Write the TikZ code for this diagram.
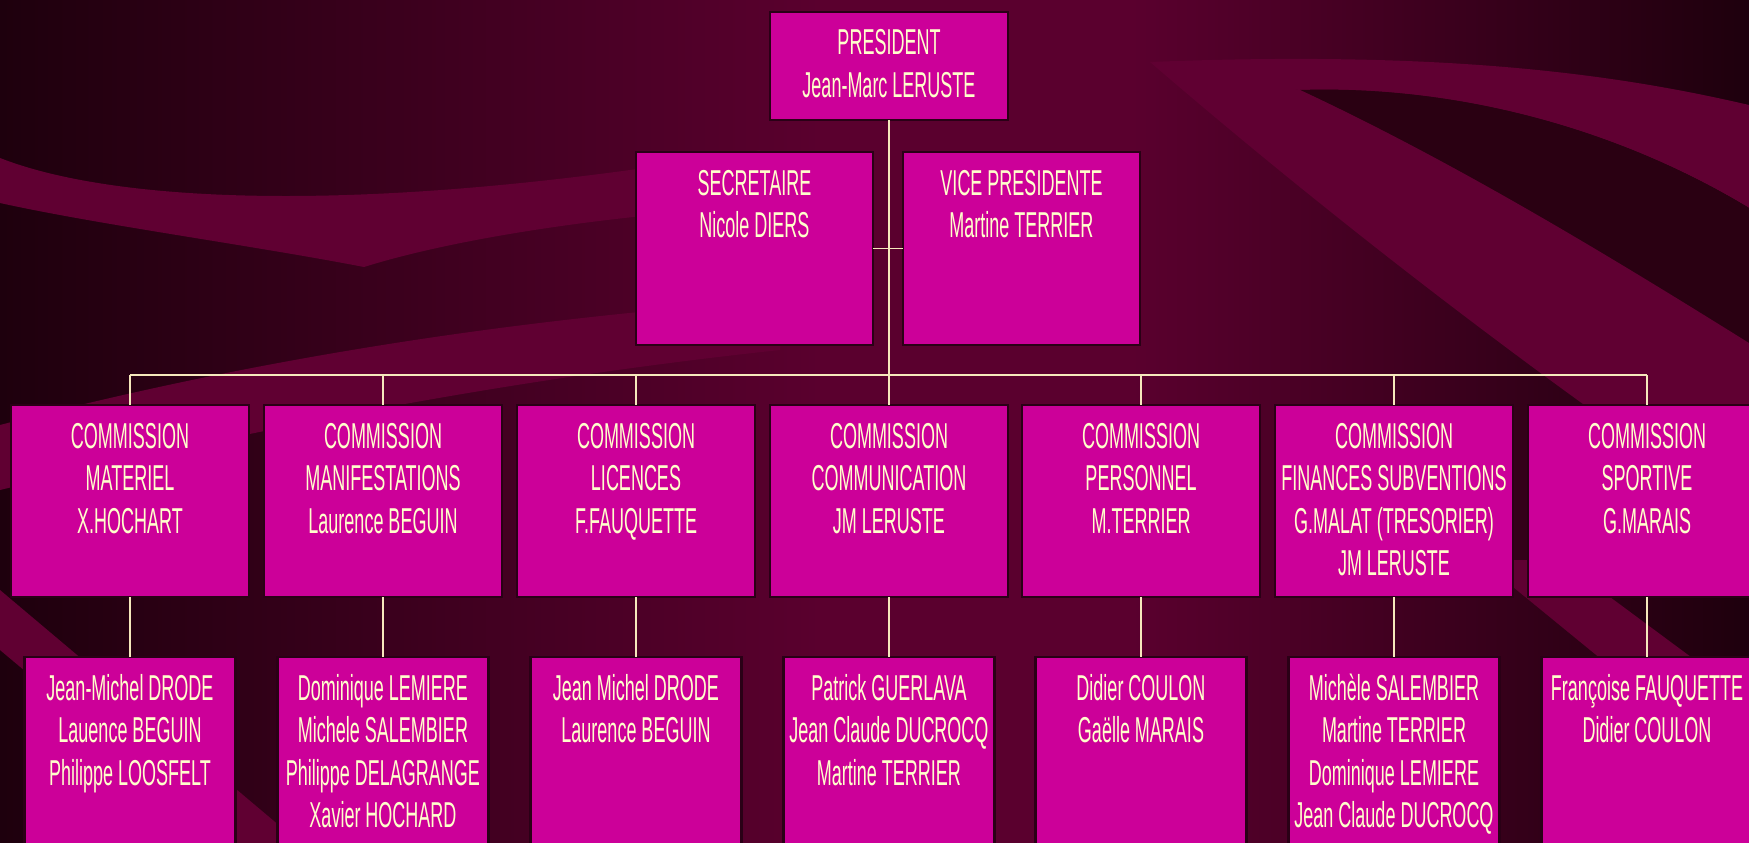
\documentclass[tikz,border=0pt]{standalone}
\usepackage{fontspec}
\setmainfont{Liberation Sans}[FakeStretch=0.5]
\definecolor{mag}{HTML}{CC0099}
\definecolor{cream}{HTML}{FFFFCC}
\definecolor{wire}{HTML}{F6E8BC}
\definecolor{bdr}{HTML}{2A0016}
\definecolor{bgdark}{HTML}{1E000D}
\definecolor{bgmid}{HTML}{5A002E}
\definecolor{band}{HTML}{600032}
\definecolor{bgdeep}{HTML}{2A0012}
\newcommand{\bxt}[3]{\parbox[c][#2][t]{#1}{\centering\fontsize{36}{42.5}\selectfont\vspace*{13.25pt}\strut #3\par}}
\tikzset{
  orgbox/.style={draw=bdr, line width=2.5pt, fill=mag, inner sep=0pt, outer sep=0pt, text=cream, anchor=north},
  conn/.style={draw=wire, line width=1.6pt},
  bandfill/.style={fill=band}
}
\begin{document}
\begin{tikzpicture}[x=1pt,y=-1pt]
\useasboundingbox (0,0) rectangle (1749,843);
\clip (0,0) rectangle (1749,843);
% background
\shade[left color=bgdark, right color=bgmid] (0,0) rectangle (821,843);
\fill[bgmid] (820,0) rectangle (1131,843);
\shade[left color=bgmid, right color=bgdark] (1130,0) rectangle (1749,843);
% upper-left boomerang band
\fill[bandfill] (0,158) .. controls (120,205) and (380,215) .. (760,150) -- (780,205) .. controls (600,215) and (450,240) .. (364,267) .. controls (250,245) and (100,225) .. (0,203) -- cycle;
% lower-left rising band
\fill[bandfill] (0,425) .. controls (250,360) and (500,320) .. (780,300) -- (780,350) .. controls (500,380) and (250,430) .. (0,490) -- cycle;
% bottom-left diagonal band
\fill[bandfill] (0,590) -- (0,650) -- (230,843) -- (300,843) -- cycle;
% right upper crescent
\fill[bandfill] (1150,62) .. controls (1450,50) and (1620,75) .. (1749,105) -- (1749,208) .. controls (1620,130) and (1460,85) .. (1300,90) .. controls (1250,85) and (1200,75) .. (1150,62) -- cycle;
% dark region right
\fill[bgdeep] (1300,90) .. controls (1460,85) and (1620,130) .. (1749,208) -- (1749,343) .. controls (1600,250) and (1450,160) .. (1300,90) -- cycle;
% right wide diagonal band
\fill[bandfill] (1150,62) .. controls (1230,75) and (1270,85) .. (1300,90) .. controls (1450,160) and (1600,250) .. (1749,343) -- (1749,520) .. controls (1600,420) and (1380,260) .. (1150,62) -- cycle;
% bottom-right band
\fill[bandfill] (1480,560) -- (1560,560) -- (1749,700) -- (1749,780) -- cycle;

% nodes
\node[orgbox] (pres) at (889,12) {\bxt{238pt}{108pt}{PRESIDENT\\Jean-Marc LERUSTE}};
\node[orgbox] (sec) at (754.5,152) {\bxt{237pt}{193pt}{SECRETAIRE\\Nicole DIERS}};
\node[orgbox] (vice) at (1021.5,152) {\bxt{237pt}{193pt}{VICE PRESIDENTE\\Martine TERRIER}};

\node[orgbox] (c1) at (130,405) {\bxt{238pt}{192pt}{COMMISSION\\MATERIEL\\X.HOCHART}};
\node[orgbox] (c2) at (383,405) {\bxt{238pt}{192pt}{COMMISSION\\MANIFESTATIONS\\Laurence BEGUIN}};
\node[orgbox] (c3) at (636,405) {\bxt{238pt}{192pt}{COMMISSION\\LICENCES\\F.FAUQUETTE}};
\node[orgbox] (c4) at (889,405) {\bxt{238pt}{192pt}{COMMISSION\\COMMUNICATION\\JM LERUSTE}};
\node[orgbox] (c5) at (1141,405) {\bxt{238pt}{192pt}{COMMISSION\\PERSONNEL\\M.TERRIER}};
\node[orgbox] (c6) at (1394,405) {\bxt{238pt}{192pt}{COMMISSION\\FINANCES SUBVENTIONS\\G.MALAT (TRESORIER)\\JM LERUSTE}};
\node[orgbox] (c7) at (1647,405) {\bxt{238pt}{192pt}{COMMISSION\\SPORTIVE\\G.MARAIS}};

\node[orgbox] (b1) at (130,657) {\bxt{211pt}{200pt}{Jean-Michel DRODE\\Lauence BEGUIN\\Philippe LOOSFELT}};
\node[orgbox] (b2) at (383,657) {\bxt{211pt}{200pt}{Dominique LEMIERE\\Michele SALEMBIER\\Philippe DELAGRANGE\\Xavier HOCHARD}};
\node[orgbox] (b3) at (636,657) {\bxt{211pt}{200pt}{Jean Michel DRODE\\Laurence BEGUIN}};
\node[orgbox] (b4) at (889,657) {\bxt{211pt}{200pt}{Patrick GUERLAVA\\Jean Claude DUCROCQ\\Martine TERRIER}};
\node[orgbox] (b5) at (1141,657) {\bxt{211pt}{200pt}{Didier COULON\\Gaëlle MARAIS}};
\node[orgbox] (b6) at (1394,657) {\bxt{211pt}{200pt}{Michèle SALEMBIER\\Martine TERRIER\\Dominique LEMIERE\\Jean Claude DUCROCQ}};
\node[orgbox] (b7) at (1647,657) {\bxt{211pt}{200pt}{Françoise FAUQUETTE\\Didier COULON}};

% connectors
\coordinate (bus) at (889,375);
\draw[conn] (pres.south) -- (bus);
\draw[conn] (sec.east) -- (vice.west);
\draw[conn] (c1.north |- bus) -- (c7.north |- bus);
\foreach \i in {1,...,7} {
  \draw[conn] (c\i.north |- bus) -- (c\i.north);
  \draw[conn] (c\i.south) -- (b\i.north);
}
\end{tikzpicture}
\end{document}
